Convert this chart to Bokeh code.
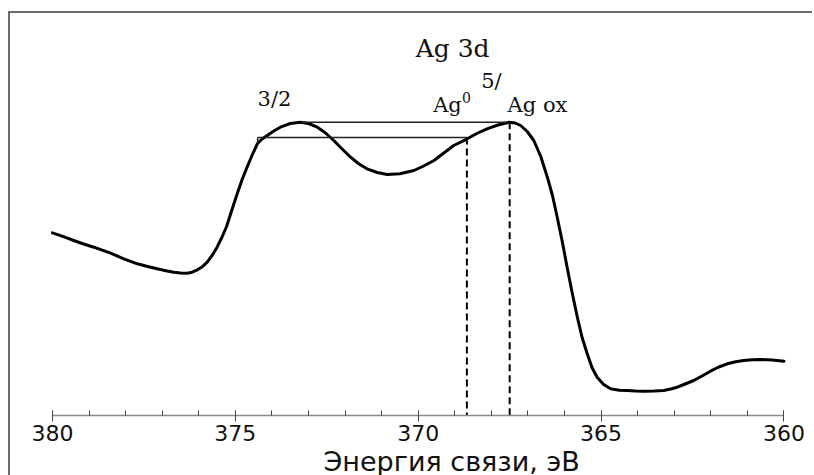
from bokeh.plotting import figure
from bokeh.models import Range1d, Label, FixedTicker, ColumnDataSource, Title
from bokeh.embed import file_html
from bokeh.resources import INLINE

# Ag 3d spectrum (binding energy, eV ; intensity, arb. units)
energy = [380.00, 379.70, 379.42, 379.15, 378.87, 378.64, 378.41, 378.05, 377.68,
          377.40, 377.14, 376.90, 376.68, 376.50, 376.32, 376.18, 376.04, 375.90,
          375.77, 375.64, 375.50, 375.37, 375.24, 375.10, 374.95, 374.82, 374.68,
          374.54, 374.40, 374.27, 374.13, 373.95, 373.77, 373.50, 373.22, 373.00,
          372.76, 372.55, 372.31, 372.08, 371.85, 371.62, 371.40, 371.12, 370.85,
          370.50, 370.12, 369.85, 369.57, 369.30, 369.03, 368.66, 368.40, 368.12,
          367.82, 367.52, 367.35, 367.20, 367.02, 366.84, 366.65, 366.47, 366.33,
          366.20, 366.06, 365.93, 365.79, 365.65, 365.52, 365.38, 365.25, 365.11,
          364.93, 364.74, 364.50, 364.29, 364.06, 363.83, 363.55, 363.29, 363.10,
          362.92, 362.70, 362.47, 362.24, 362.01, 361.78, 361.55, 361.32, 361.10,
          360.87, 360.64, 360.32, 360.00]
intensity = [182.7, 178.8, 175.0, 171.5, 168.3, 165.3, 162.3, 156.7, 151.7,
             149.0, 146.7, 144.8, 143.3, 142.6, 142.3, 143.3, 145.7, 148.8,
             153.3, 159.8, 168.3, 178.0, 189.0, 205.0, 221.7, 235.5, 248.3,
             260.5, 271.7, 276.5, 280.0, 284.5, 288.3, 292.0, 293.3, 292.0,
             288.3, 283.0, 275.0, 266.5, 258.3, 251.5, 246.7, 243.0, 241.0,
             241.8, 245.0, 249.5, 255.0, 262.5, 270.0, 276.7, 282.0, 286.7,
             290.5, 293.3, 292.5, 290.0, 284.0, 275.0, 259.0, 238.3, 220.0,
             198.3, 173.5, 148.3, 122.5, 98.3, 78.0, 61.7, 48.0, 38.3,
             31.0, 26.7, 25.3, 25.0, 24.5, 24.3, 24.5, 25.0, 26.5,
             28.3, 31.5, 35.0, 39.5, 44.3, 48.5, 51.7, 53.7, 55.0,
             55.8, 56.0, 55.4, 54.3]

# peak markers
peak_names = ["Ag0", "Ag ox"]
peak_energy = [368.67, 367.50]
peak_level = [278.0, 293.3]
bar_start = [374.39, 373.22]

x_ticks = [380, 375, 370, 365, 360]
x_minor = list(range(360, 381))

p = figure(width=804, height=468, output_backend="svg", toolbar_location=None,
           x_range=Range1d(381.148, 359.166), y_range=Range1d(0, 402),
           y_axis_location=None,
           min_border_left=0, min_border_right=0, min_border_top=0,
           min_border_bottom=66,
           styles={"border-top": "2px solid #6a6a6a",
                   "border-left": "2px solid #6a6a6a",
                   "margin-top": "11px", "margin-left": "8px",
                   "margin-bottom": "-6px"})
p.outline_line_color = None
p.xgrid.visible = False
p.ygrid.visible = False
p.background_fill_color = "white"
p.border_fill_color = "white"

src = ColumnDataSource(dict(x=energy, y=intensity))
p.line("x", "y", source=src, line_color="black", line_width=3,
       line_join="round", line_cap="round")

# horizontal reference bars
p.segment(x0=bar_start, y0=peak_level, x1=peak_energy, y1=peak_level,
          line_color="#222222", line_width=1.5)
# small down-tick at start of lower bar
p.segment(x0=[bar_start[0]], y0=[peak_level[0]], x1=[bar_start[0]],
          y1=[peak_level[0] - 6], line_color="#222222", line_width=1.5)
# dashed drop lines
p.segment(x0=peak_energy, y0=peak_level, x1=peak_energy, y1=[0, 0],
          line_color="black", line_width=2, line_dash="7 4")

ax = p.xaxis[0]
ax.ticker = FixedTicker(ticks=x_ticks, minor_ticks=x_minor)
ax.bounds = (360, 380)
ax.axis_line_color = "#8a8a8a"
ax.axis_line_width = 1.5
ax.major_tick_line_color = "#444444"
ax.minor_tick_line_color = "#444444"
ax.major_tick_in = 5
ax.major_tick_out = 6
ax.minor_tick_in = 5
ax.minor_tick_out = 0
ax.major_label_standoff = 3
ax.major_label_text_font = "DejaVu Sans"
ax.major_label_text_font_size = "22px"
ax.major_label_text_color = "#111111"

# axis title (offset to the right of the axis centre, as in the source)
p.add_layout(Title(text="Энергия связи, эВ", align="left", offset=313,
                   standoff=0, text_font="DejaVu Sans",
                   text_font_size="27px", text_font_style="normal",
                   text_color="#111111"), "below")

serif = "DejaVu Serif"
p.add_layout(Label(x=369.06, y=367, text="Ag 3d", text_font=serif,
                   text_font_size="25px", text_align="center",
                   text_baseline="middle", text_color="#111111"))
p.add_layout(Label(x=373.93, y=317, text="3/2", text_font=serif,
                   text_font_size="21px", text_align="center",
                   text_baseline="middle", text_color="#111111"))
p.add_layout(Label(x=368.00, y=335, text="5/", text_font=serif,
                   text_font_size="21px", text_align="center",
                   text_baseline="middle", text_color="#111111"))
p.add_layout(Label(x=369.20, y=311, text="Ag", text_font=serif,
                   text_font_size="21px", text_align="center",
                   text_baseline="middle", text_color="#111111"))
p.add_layout(Label(x=368.68, y=318, text="0", text_font=serif,
                   text_font_size="14px", text_align="center",
                   text_baseline="middle", text_color="#111111"))
p.add_layout(Label(x=366.74, y=311, text="Ag ox", text_font=serif,
                   text_font_size="21px", text_align="center",
                   text_baseline="middle", text_color="#111111"))

open("out.html", "w").write(file_html(p, INLINE))
